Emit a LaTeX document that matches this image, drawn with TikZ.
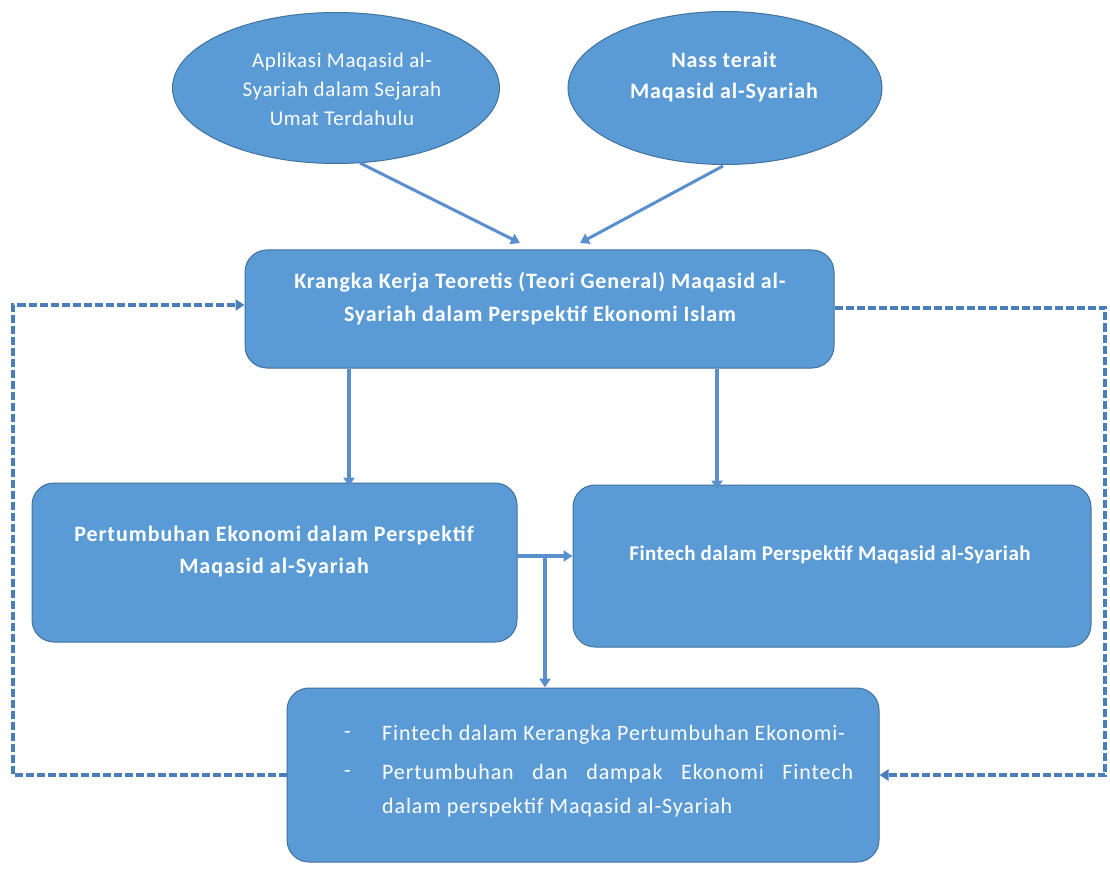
\documentclass[tikz,border=0pt]{standalone}
\usepackage{fontspec}
\setmainfont{Carlito}
\usetikzlibrary{arrows.meta,calc,shapes.geometric}
\definecolor{boxfill}{HTML}{5B9BD5}
\definecolor{boxline}{HTML}{41719C}
\definecolor{arrcol}{HTML}{5A8FCE}
\definecolor{dshcol}{HTML}{4A7EBB}
\tikzset{
  rbox/.style={draw=boxline,fill=boxfill,line width=1pt,rounded corners=22pt,inner sep=0pt},
  ebox/.style={draw=boxline,fill=boxfill,line width=1pt,ellipse,inner sep=0pt},
  wtext/.style={text=white,inner sep=0pt,align=center},
  etext/.style={wtext,font={\fontsize{21}{29}\selectfont\addfontfeature{LetterSpace=3}}},
  ebold/.style={wtext,font={\fontsize{22}{31}\selectfont\bfseries\addfontfeature{LetterSpace=4}}},
  kbold/.style={wtext,font={\fontsize{22}{33}\selectfont\bfseries\addfontfeature{LetterSpace=4}}},
  pbold/.style={wtext,font={\fontsize{22}{32}\selectfont\bfseries\addfontfeature{LetterSpace=4.5}}},
  fbold/.style={wtext,font={\fontsize{21}{30}\selectfont\bfseries\addfontfeature{LetterSpace=2}}},
  btext/.style={wtext,anchor=west,font={\fontsize{22}{33}\selectfont\addfontfeature{LetterSpace=4}}},
  arr/.style={draw=arrcol,line width=4pt,-{Triangle[length=9pt,width=11pt]}},
  dsharr/.style={draw=dshcol,line width=4pt,dash pattern=on 8pt off 3pt,-{Triangle[length=9pt,width=11pt]}}
}
\begin{document}
\begin{tikzpicture}[x=1pt,y=-1pt]
\useasboundingbox (0,0) rectangle (1110,874);
% ellipses
\node[ebox,minimum width=327pt,minimum height=151pt] (E1) at (336,88) {};
\node[ebox,minimum width=314pt,minimum height=153pt] (E2) at (725,88) {};
\node[etext] (E1t) at (342,89) {Aplikasi Maqasid al-\\Syariah dalam Sejarah\\Umat Terdahulu};
\node[ebold] (E2t) at (724,77) {Nass terait\\Maqasid al-Syariah};
% boxes
\node[rbox,minimum width=589pt,minimum height=118pt] (K) at (539.5,309) {};
\node[rbox,minimum width=485pt,minimum height=159pt] (P) at (274.5,562.5) {};
\node[rbox,minimum width=518pt,minimum height=162pt] (F) at (832,566) {};
\node[rbox,minimum width=592pt,minimum height=174pt] (B) at (583,775) {};
\node[kbold] (Kt) at (540,299) {Krangka Kerja Teoretis (Teori General) Maqasid al-\\Syariah dalam Perspektif Ekonomi Islam};
\node[pbold] (Pt) at (274,551) {Pertumbuhan Ekonomi dalam Perspektif\\Maqasid al-Syariah};
\node[fbold] (Ft) at (830,555) {Fintech dalam Perspektif Maqasid al-Syariah};
\node[btext] (b1) at (344,735) {-};
\node[btext] (b2) at (344,774) {-};
\node[btext] (Bt1) at (382,735) {Fintech dalam Kerangka Pertumbuhan Ekonomi-};
\node[btext] (Bt2) at (382,774) {\makebox[471pt][s]{Pertumbuhan dan dampak Ekonomi Fintech}};
\node[btext] (Bt3) at (382,808) {dalam perspektif Maqasid al-Syariah};
% connectors from ellipses
\coordinate (a1s) at (360,163);
\coordinate (a1e) at (520,243);
\coordinate (a2s) at (723,166);
\coordinate (a2e) at (580,243);
\draw[arr,line width=3pt] (a1s) -- (a1e);
\draw[arr,line width=3pt] (a2s) -- (a2e);
% down arrows
\coordinate (xl) at (349,0);
\coordinate (xr) at (717,0);
\draw[arr] (K.south -| xl) -- ([yshift=-4pt]P.north -| xl);
\draw[arr] (K.south -| xr) -- ([yshift=-5pt]F.north -| xr);
% middle junction
\coordinate (pe) at (517,556);
\coordinate (j) at (545,556);
\draw[arr] (pe) -- (pe -| F.west);
\draw[arr] (j) -- (j |- B.north);
% feedback loops
\coordinate (L) at (13,775);
\coordinate (Kin) at ($(K.west)+(0,-4)$);
\draw[dsharr] (B.west) -- (L) |- (Kin);
\coordinate (Kout) at ($(K.east)+(0,-1)$);
\coordinate (R) at (1105,308);
\draw[dsharr] (Kout) -- (R) |- (B.east);
\end{tikzpicture}
\end{document}
